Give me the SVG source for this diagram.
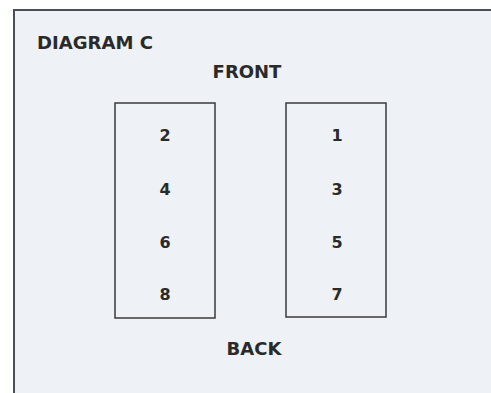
<svg xmlns="http://www.w3.org/2000/svg" width="491" height="393" viewBox="0 0 491 393">
<style>
.t{font-family:"DejaVu Sans",Verdana,sans-serif;fill:#2a2a2a;font-weight:bold}
.lbl{font-size:18px;text-anchor:middle}
.num{font-size:16px;text-anchor:middle}
.box{fill:none;stroke:#3a3a3a;stroke-width:1.5}
</style>
<rect x="0" y="0" width="491" height="393" fill="#ffffff"/>
<rect x="14" y="10" width="490" height="400" fill="#eef1f5" stroke="#4a4e55" stroke-width="2"/>
<text class="t" x="37" y="49" font-size="17" fill="#3a3a3a" textLength="116" lengthAdjust="spacingAndGlyphs">DIAGRAM C</text>
<text class="t lbl" x="247" y="78">FRONT</text>
<g id="left">
<rect class="box" x="115" y="103" width="100" height="215"/>
<text class="t num" x="165" y="141">2</text>
<text class="t num" x="165" y="195">4</text>
<text class="t num" x="165" y="248">6</text>
<text class="t num" x="165" y="300">8</text>
</g>
<g id="right">
<rect class="box" x="286" y="103" width="100" height="214"/>
<text class="t num" x="337" y="141">1</text>
<text class="t num" x="337" y="195">3</text>
<text class="t num" x="337" y="248">5</text>
<text class="t num" x="337" y="300">7</text>
</g>
<text class="t lbl" x="254" y="355">BACK</text>
<g id="connectors"/>
</svg>
